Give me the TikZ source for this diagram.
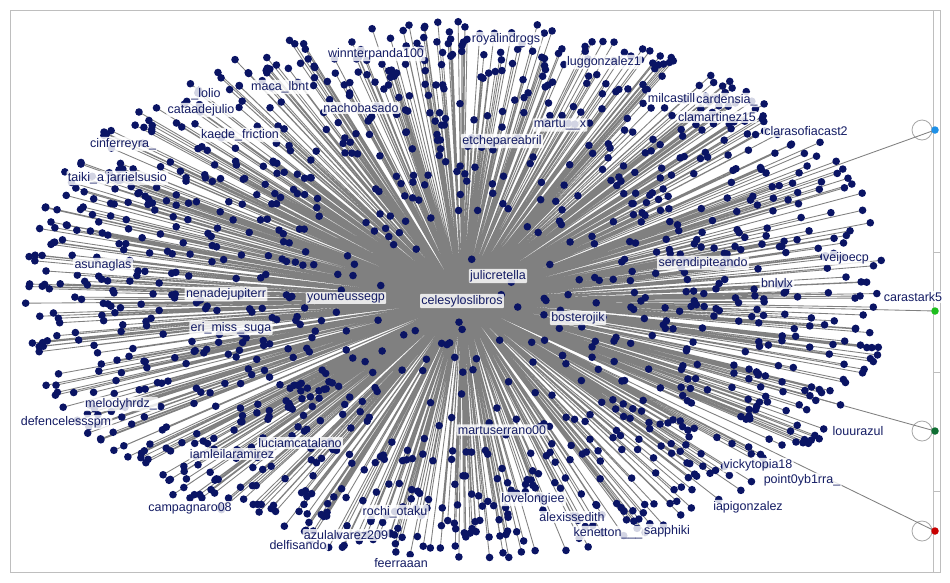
\documentclass[tikz,border=0pt]{standalone}
\usepackage{fontspec}
\setmainfont{Liberation Sans}
\definecolor{navy}{RGB}{10,20,100}
\definecolor{labtxt}{RGB}{20,28,100}
\definecolor{edgegray}{RGB}{128,128,128}
\definecolor{framegray}{RGB}{190,190,190}
\definecolor{sblue}{RGB}{30,144,230}
\definecolor{sgreen}{RGB}{30,190,30}
\definecolor{sdgreen}{RGB}{15,110,50}
\definecolor{sred}{RGB}{200,0,0}
\tikzset{
  dot/.style={circle, fill=navy, inner sep=0pt, minimum size=7.6pt},
  sdot/.style={circle, inner sep=0pt, minimum size=7.5pt},
  ring/.style={circle, draw=gray!70, line width=0.8pt, inner sep=0pt, minimum size=20pt},
  edge/.style={draw=edgegray, line width=0.85pt},
  lab/.style={fill=white, fill opacity=0.82, text opacity=1, text=labtxt,
    font=\fontsize{12.5}{14}\selectfont, inner sep=1.3pt, rounded corners=1pt},
  frame/.style={draw=framegray, line width=1pt}
}
\begin{document}
\begin{tikzpicture}[x=1pt,y=-1pt]
\useasboundingbox (0,0) rectangle (950,582);
\fill[white] (0,0) rectangle (950,582);
\draw[frame] (10,10) rectangle (940,572);
\draw[frame] (933,10) -- (933,572);
\draw[frame] (933,252) -- (940,252);
\draw[frame] (933,372) -- (940,372);
\draw[frame] (933,491) -- (940,491);

\coordinate (hub) at (462,300);

\pgfmathsetseed{2718}
\foreach \i in {1,...,1400}{
  \pgfmathsetmacro\ang{360*rnd}
  \pgfmathsetmacro\rad{0.06+0.94*pow(rnd+0.0001,0.38)}
  \pgfmathsetmacro\px{455+437*\rad*cos(\ang)}
  \pgfmathsetmacro\py{290+270*\rad*sin(\ang)}
  \coordinate (p\i) at (\px,\py);
}

% right-hand special nodes
\node[ring] (r1) at (922,130) {};
\node[ring] (r3) at (922,431) {};
\node[ring] (r4) at (922,531) {};
\coordinate (c1) at (935,130);
\coordinate (c2) at (935,311);
\coordinate (c3) at (935,431);
\coordinate (c4) at (935,531);

\draw[edge] foreach \i in {1,...,1400}{(hub) -- (p\i)};
\draw[edge] (hub) -- (c1) (hub) -- (c2) (hub) -- (c3) (hub) -- (c4);

\foreach \i in {1,...,1400}{
  \node[dot] (n\i) at (p\i) {};
}
\node[dot] (hubdot) at (hub) {};
\node[sdot, fill=sblue] (s1) at (c1) {};
\node[sdot, fill=sgreen] (s2) at (c2) {};
\node[sdot, fill=sdgreen] (s3) at (c3) {};
\node[sdot, fill=sred] (s4) at (c4) {};

% labels
\node[lab] (l1) at (462,301) {celesyloslibros};
\node[lab] (l2) at (498,276) {julicretella};
\node[lab] (l3) at (346,298) {youmeussegp};
\node[lab] (l4) at (578,318) {bosterojik};
\node[lab] (l5) at (703,263) {serendipiteando};
\node[lab] (l6) at (777,283) {bnlvlx};
\node[lab] (l7) at (846,258) {veijoecp};
\node[lab] (l8) at (913,297) {carastark5};
\node[lab] (l9) at (858,431) {louurazul};
\node[lab] (l10) at (758,465) {vickytopia18};
\node[lab] (l11) at (802,480) {point0yb1rra\_};
\node[lab] (l12) at (748,507) {iapigonzalez};
\node[lab] (l13) at (608,533) {kenetton\_\_\_};
\node[lab] (l14) at (667,531) {sapphiki};
\node[lab] (l15) at (572,517) {alexissedith};
\node[lab] (l16) at (533,499) {lovelongiee};
\node[lab] (l17) at (502,430) {martuserrano00};
\node[lab] (l18) at (395,512) {rochi\_otaku};
\node[lab] (l19) at (346,535) {azulalvarez209};
\node[lab] (l20) at (298,545) {delfisando};
\node[lab] (l21) at (401,563) {feerraaan};
\node[lab] (l22) at (190,508) {campagnaro08};
\node[lab] (l23) at (232,454) {iamleilaramirez};
\node[lab] (l24) at (300,443) {luciamcatalano};
\node[lab] (l25) at (66,422) {defencelessspm};
\node[lab] (l26) at (121,404) {melodyhrdz\_};
\node[lab] (l27) at (231,328) {eri\_miss\_suga};
\node[lab] (l28) at (226,294) {nenadejupiterr};
\node[lab] (l29) at (103,265) {asunaglas};
\node[lab] (l30) at (86,178) {taiki\_a};
\node[lab] (l31) at (137,178) {jarrielsusio};
\node[lab] (l32) at (123,144) {cinferreyra\_};
\node[lab] (l33) at (201,110) {cataadejulio};
\node[lab] (l34) at (206,94) {\_lolio};
\node[lab] (l35) at (240,135) {kaede\_friction};
\node[lab] (l36) at (280,87) {maca\_lbnt};
\node[lab] (l37) at (376,54) {winnterpanda100};
\node[lab] (l38) at (361,108) {nachobasado};
\node[lab] (l39) at (506,39) {royalindrogs};
\node[lab] (l40) at (604,62) {luggonzalez1};
\node[lab] (l41) at (502,141) {etchepareabril};
\node[lab] (l42) at (560,125) {martu\_\_x};
\node[lab] (l43) at (675,98) {milcastillo};
\node[lab] (l44) at (727,100) {cardensia\_};
\node[lab] (l45) at (717,117) {clamartinez15};
\node[lab] (l46) at (806,131) {clarasofiacast2};
\end{tikzpicture}
\end{document}
